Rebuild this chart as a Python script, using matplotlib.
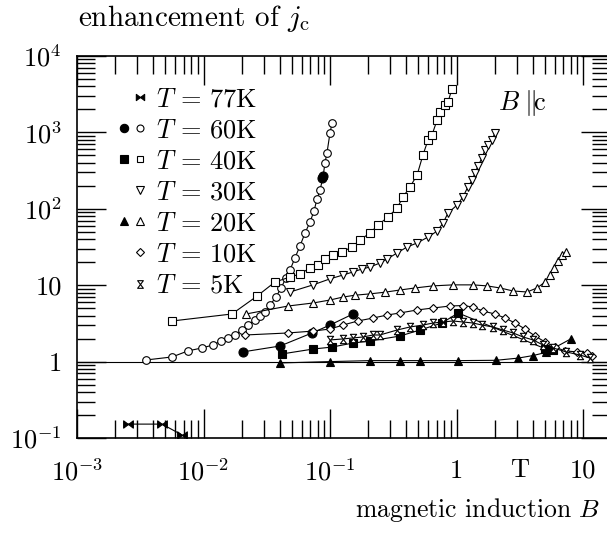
import numpy as np
import matplotlib.pyplot as plt
from matplotlib.path import Path
from matplotlib.lines import Line2D
from matplotlib.legend_handler import HandlerTuple

plt.rcParams['mathtext.fontset'] = 'cm'
plt.rcParams['font.family'] = 'serif'
plt.rcParams['font.serif'] = ['cmr10', 'DejaVu Serif']
plt.rcParams['axes.formatter.use_mathtext'] = True

# ---- data ----
B77 = [0.00253, 0.0047, 0.0068]
j77 = [0.152, 0.152, 0.109]

B60o = [0.00351, 0.00564, 0.00754, 0.00973, 0.0119, 0.01374, 0.01563, 0.01775, 0.0201,
        0.0225, 0.0255, 0.0280, 0.0306, 0.0336, 0.0374, 0.0410, 0.0449, 0.0483, 0.0528,
        0.0579, 0.0634, 0.0695, 0.0748, 0.0789, 0.0834, 0.0881, 0.0912, 0.0946, 0.100, 0.1038]
j60o = [1.05, 1.15, 1.38, 1.51, 1.65, 1.86, 2.04, 2.23, 2.59, 3.01, 3.50, 3.95, 4.46, 5.5,
        7.0, 9.2, 12.4, 15.8, 22.7, 32.6, 48, 67, 94, 134, 176, 261, 397, 537, 982, 1325]
B60f = [0.0205, 0.0403, 0.0721, 0.100, 0.152]
j60f = [1.34, 1.60, 2.37, 3.01, 4.20]
B60f2 = [0.0862, 0.0885]
j60f2 = [250, 272]

B40o = [0.00564, 0.0168, 0.0265, 0.0367, 0.0483, 0.0579, 0.0695, 0.0804, 0.0912, 0.1057,
        0.1245, 0.149, 0.1726, 0.207, 0.239, 0.287, 0.339, 0.378, 0.429, 0.488, 0.543,
        0.596, 0.640, 0.702, 0.741, 0.811, 0.857, 0.920]
j40o = [3.40, 4.20, 7.2, 11.0, 12.8, 14.0, 16.8, 18.4, 22.0, 24.9, 27.2, 31.6, 39.1, 48.2,
        61, 78, 102, 143, 193, 277, 506, 796, 925, 1450, 1850, 2290, 2500, 3700]
B40f = [0.0418, 0.0735, 0.1038, 0.152, 0.207, 0.357, 0.514, 0.767, 1.03, 5.0, 5.8]
j40f = [1.26, 1.46, 1.55, 1.75, 1.86, 2.16, 2.59, 3.20, 4.33, 1.48, 1.42]

B30 = [0.0483, 0.0735, 0.100, 0.1268, 0.152, 0.179, 0.207, 0.248, 0.283, 0.339, 0.406,
       0.488, 0.596, 0.702, 0.782, 0.857, 1.01, 1.125, 1.23, 1.33, 1.40, 1.48, 1.59, 1.68,
       1.77, 1.91, 2.01]
j30 = [8.15, 10.1, 12.1, 13.6, 14.9, 16.3, 17.3, 19.5, 22.0, 26.4, 31.6, 35.7, 42.7, 51,
       65, 88, 112, 143, 193, 238, 294, 363, 463, 589, 684, 796, 982]

B20o = [0.0217, 0.0466, 0.0735, 0.100, 0.1268, 0.158, 0.207, 0.272, 0.357, 0.470, 0.652,
        0.937, 1.35, 1.74, 2.21, 2.80, 3.61, 4.33, 5.01, 5.49, 5.90, 6.34, 6.82, 7.34]
j20o = [4.20, 5.34, 5.85, 6.40, 7.0, 7.4, 7.7, 8.1, 8.65, 9.2, 9.8, 10.1, 10.1, 9.8, 9.2,
        8.4, 8.15, 9.2, 11.0, 13.6, 16.8, 20.7, 24.9, 27.2]
B20f = [0.0403, 0.100, 0.207, 0.357, 0.514, 1.03, 2.05, 3.06, 4.03, 5.1, 8.0]
j20f = [0.96, 1.0, 1.03, 1.03, 1.03, 1.03, 1.04, 1.11, 1.20, 1.32, 1.98]

B10 = [0.0213, 0.0466, 0.0735, 0.100, 0.1268, 0.166, 0.219, 0.283, 0.357, 0.488, 0.652,
       0.889, 1.125, 1.35, 1.62, 2.01, 2.42, 2.90, 3.48, 4.18, 5.01, 6.01, 7.21, 8.97,
       10.8, 11.8]
j10 = [2.23, 2.37, 2.51, 2.67, 3.01, 3.40, 3.72, 4.07, 4.33, 4.74, 5.03, 5.34, 5.42, 5.18,
       4.59, 4.20, 3.72, 3.20, 2.67, 2.16, 1.81, 1.55, 1.38, 1.34, 1.30, 1.18]

B5 = [0.100, 0.1268, 0.152, 0.182, 0.219, 0.248, 0.339, 0.429, 0.543, 0.652, 0.782, 0.937,
      1.125, 1.35, 1.59, 1.94, 2.33, 2.80, 3.36, 4.03, 4.83, 5.79, 7.34, 9.46, 11.4]
j5 = [1.92, 1.98, 2.04, 2.10, 2.23, 2.23, 2.59, 2.84, 3.01, 3.20, 3.30, 3.40, 3.30, 3.20,
      3.01, 2.84, 2.59, 2.37, 2.10, 1.92, 1.65, 1.51, 1.34, 1.22, 1.11]

labels = ['77', '60', '40', '30', '20', '10', '5']

# custom markers
bowtie = Path([(-1, -0.75), (-1, 0.75), (0, 0), (-1, -0.75),
               (1, -0.75), (1, 0.75), (0, 0), (1, -0.75)],
              [1, 2, 2, 79, 1, 2, 2, 79])
hourglass = Path([(-0.75, 1), (0.75, 1), (0, 0), (-0.75, 1),
                  (-0.75, -1), (0.75, -1), (0, 0), (-0.75, -1)],
                 [1, 2, 2, 79, 1, 2, 2, 79])

fig = plt.figure(figsize=(6.07, 5.34), dpi=100)
ax = fig.add_axes([77/607, 1-438/534, (610-77)/607, (438-56)/534])

lw = 0.8
kw = dict(color='k', lw=lw, mec='k', mew=0.8)
ax.axhline(1, color='k', lw=lw)
ax.plot(B77, j77, marker=bowtie, ms=7, mfc='k', **kw)
ax.plot(B60o, j60o, marker='o', ms=5.5, mfc='white', **kw)
ax.plot(B60f, j60f, marker='o', ms=6.5, mfc='k', **kw)
ax.plot(B60f2, j60f2, marker='o', ms=6.5, mfc='k', **kw)
ax.plot(B40o, j40o, marker='s', ms=5.5, mfc='white', **kw)
ax.plot(B40f, j40f, marker='s', ms=6, mfc='k', **kw)
ax.plot(B30, j30, marker='v', ms=6, mfc='white', **kw)
ax.plot(B20o, j20o, marker='^', ms=6, mfc='white', **kw)
ax.plot(B20f, j20f, marker='^', ms=6, mfc='k', **kw)
ax.plot(B10, j10, marker='D', ms=3.8, mfc='white', **kw)
ax.plot(B5, j5, marker=hourglass, ms=6, mfc='white', **kw)

ax.set_xscale('log')
ax.set_yscale('log')
ax.set_xlim(1e-3, 10**(-3 + 533/126.5))
ax.set_ylim(0.1, 1e4)

ax.set_xticks([1e-3, 1e-2, 1e-1, 1, 10])
ax.set_xticklabels([r'$10^{-3}$', r'$10^{-2}$', r'$10^{-1}$', '1', '10'])
ax.set_yticks([0.1, 1, 10, 100, 1000, 10000])
ax.set_yticklabels([r'$10^{-1}$', '1', '10', r'$10^{2}$', r'$10^{3}$', r'$10^{4}$'])
ax.xaxis.set_minor_formatter(plt.NullFormatter())
ax.yaxis.set_minor_formatter(plt.NullFormatter())
ax.tick_params(which='both', direction='in', top=True, right=True, labelsize=19)
ax.tick_params(which='major', length=21, width=1.0)
ax.tick_params(which='minor', length=13, width=1.0)
ax.tick_params(axis='x', which='major', pad=15)
ax.tick_params(axis='y', which='major', pad=11)
for s in ax.spines.values():
    s.set_linewidth(1.2)

ax.text(10**0.5, -0.085, 'T', transform=ax.get_xaxis_transform(),
        ha='center', va='center', fontsize=19)
ax.text(0.79, 0.877, r'$B\;\Vert\!$c', transform=ax.transAxes,
        ha='left', va='center', fontsize=19)

fig.text(78/607, 1-18/534, r'enhancement of $j_{\mathrm{c}}$', ha='left', va='center',
         fontsize=21)
fig.text(600/607, 1-510/534, r'magnetic induction $B$', ha='right', va='center',
         fontsize=18.5)

# legend
blank = Line2D([], [], ls='none', marker=None)
def mk(m, fc, ms=6):
    return Line2D([], [], ls='none', marker=m, mfc=fc, mec='k', mew=0.8, ms=ms)
handles = [(blank, mk(bowtie, 'k', 6)),
           (mk('o', 'k', 6), mk('o', 'white', 5)),
           (mk('s', 'k', 6), mk('s', 'white', 5)),
           (blank, mk('v', 'white', 5.5)),
           (mk('^', 'k', 5.5), mk('^', 'white', 5.5)),
           (blank, mk('D', 'white', 3.8)),
           (blank, mk(hourglass, 'white', 5.5))]
texts = [r'$T$ = %sK' % l for l in labels]
ax.legend(handles, texts, handler_map={tuple: HandlerTuple(ndivide=None, pad=0)},
          loc='upper left', bbox_to_anchor=(0.072, 0.918), frameon=False,
          fontsize=19, handlelength=1.25, handletextpad=0.3, labelspacing=0.28,
          borderpad=0, borderaxespad=0)

fig.savefig('out.png', dpi=100)
